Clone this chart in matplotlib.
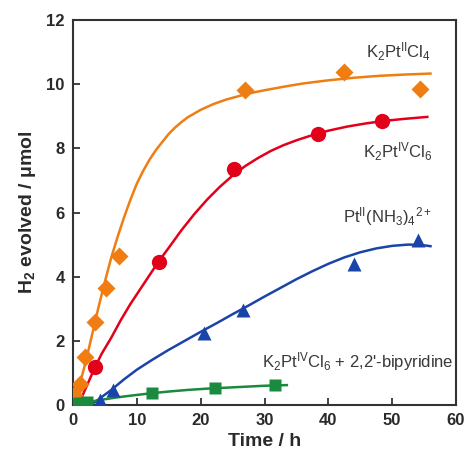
import matplotlib
matplotlib.use("Agg")
import matplotlib.pyplot as plt

plt.rcParams['font.family'] = ['Liberation Sans', 'DejaVu Sans']
plt.rcParams['mathtext.default'] = 'regular'

# measured points
t_pt2 = [0.2, 1.1, 1.9, 3.4, 5.2, 7.2, 27.0, 42.4, 54.3]
h_pt2 = [0.3, 0.65, 1.5, 2.6, 3.65, 4.65, 9.82, 10.38, 9.84]
t_pt4 = [3.45, 13.4, 25.3, 38.4, 48.4]
h_pt4 = [1.19, 4.47, 7.37, 8.46, 8.86]
t_nh3 = [4.2, 6.3, 20.5, 26.7, 44.0, 54.0]
h_nh3 = [0.16, 0.47, 2.23, 2.96, 4.41, 5.14]
t_bpy = [0.0, 1.0, 2.2, 12.3, 22.3, 31.7]
h_bpy = [0.03, 0.05, 0.08, 0.37, 0.53, 0.62]

# fitted curves
ct_pt2 = [0, 1, 2, 3, 4, 5, 6, 7, 8, 9, 10, 11, 12, 13, 14, 15, 16, 17, 18, 20, 22,
          24, 26, 28, 30, 33, 36, 40, 44, 48, 52, 56]
ch_pt2 = [0.2, 0.6, 1.35, 2.2, 3.05, 3.85, 4.6, 5.25, 5.85, 6.4, 6.9, 7.3, 7.65, 7.95,
          8.2, 8.45, 8.65, 8.82, 8.97, 9.2, 9.38, 9.52, 9.63, 9.73, 9.81, 9.92, 10.02,
          10.12, 10.2, 10.26, 10.3, 10.33]
ct_pt4 = [0.8, 1.5, 2.5, 3.5, 4.5, 6, 7.5, 9, 10.5, 12, 13.5, 15, 17, 19, 21, 23, 25,
          27, 29, 31, 33, 35, 37, 40, 43, 46, 49, 52, 55.5]
ch_pt4 = [0.0, 0.3, 0.75, 1.2, 1.6, 2.1, 2.65, 3.15, 3.6, 4.05, 4.5, 4.9, 5.45, 5.95,
          6.4, 6.8, 7.15, 7.45, 7.7, 7.92, 8.1, 8.25, 8.38, 8.55, 8.68, 8.78, 8.86,
          8.92, 8.98]
ct_nh3 = [2.5, 3.5, 4.5, 6, 8, 10, 12.5, 15, 17.5, 20, 22.5, 25, 27.5, 30, 32.5, 35,
          37.5, 40, 42.5, 45, 47.5, 50, 52.5, 54.5, 56]
ch_nh3 = [0.0, 0.1, 0.25, 0.47, 0.8, 1.1, 1.42, 1.72, 2.0, 2.28, 2.55, 2.83, 3.1, 3.38,
          3.65, 3.92, 4.17, 4.4, 4.6, 4.76, 4.88, 4.96, 5.0, 4.99, 4.95]
ct_bpy = [0, 1, 2, 3.5, 5, 7, 9, 12, 15, 18, 21, 24, 27, 30, 33.5]
ch_bpy = [0.0, 0.03, 0.08, 0.13, 0.18, 0.24, 0.29, 0.36, 0.42, 0.47, 0.51, 0.54, 0.57,
          0.6, 0.62]

orange = '#EF7D12'
red = '#E2001A'
blue = '#1B44A8'
green = '#1A8A3E'
ink = '#2a2a2a'

fig = plt.figure(figsize=(4.7, 4.58), dpi=100)
ax = fig.add_axes([73 / 470, 53 / 458, 383 / 470, 385 / 458])

ax.plot(ct_pt2, ch_pt2, color=orange, lw=1.8, zorder=2)
ax.plot(ct_pt4, ch_pt4, color=red, lw=1.8, zorder=2)
ax.plot(ct_nh3, ch_nh3, color=blue, lw=1.8, zorder=2)
ax.plot(ct_bpy, ch_bpy, color=green, lw=1.8, zorder=2)

ax.plot(t_pt2, h_pt2, 'D', color=orange, ms=9, mec='none', zorder=3)
ax.plot(t_pt4, h_pt4, 'o', color=red, ms=11, mec='none', zorder=3)
ax.plot(t_nh3, h_nh3, '^', color=blue, ms=10, mec='none', zorder=3)
ax.plot(t_bpy, h_bpy, 's', color=green, ms=9, mec='none', zorder=4)

lab = dict(fontsize=12, color='#383838', ha='right', va='center')
ax.text(56, 11.0, 'K$_2$Pt$^{II}$Cl$_4$', **lab)
ax.text(56.3, 7.88, 'K$_2$Pt$^{IV}$Cl$_6$', **lab)
ax.text(56.3, 5.86, 'Pt$^{II}$(NH$_3$)$_4$$^{2+}$', **lab)
ax.text(59.6, 1.35, "K$_2$Pt$^{IV}$Cl$_6$ + 2,2'-bipyridine", **lab)

ax.set_xlim(0, 60)
ax.set_ylim(0, 12)
ax.set_xticks(range(0, 61, 10))
ax.set_yticks(range(0, 13, 2))
ax.tick_params(direction='in', length=5, width=1.3, color='#333333',
               labelsize=12, pad=6)
for lbl in ax.get_xticklabels() + ax.get_yticklabels():
    lbl.set_fontweight('bold')
    lbl.set_color(ink)
for sp in ax.spines.values():
    sp.set_linewidth(1.5)
    sp.set_color('#333333')

ax.set_xlabel('Time / h', fontsize=14, fontweight='bold', color=ink, labelpad=3)
ax.set_ylabel('H$_2$ evolved / μmol', fontsize=14, fontweight='bold', color=ink, labelpad=6)

fig.savefig('out.png', dpi=100)
